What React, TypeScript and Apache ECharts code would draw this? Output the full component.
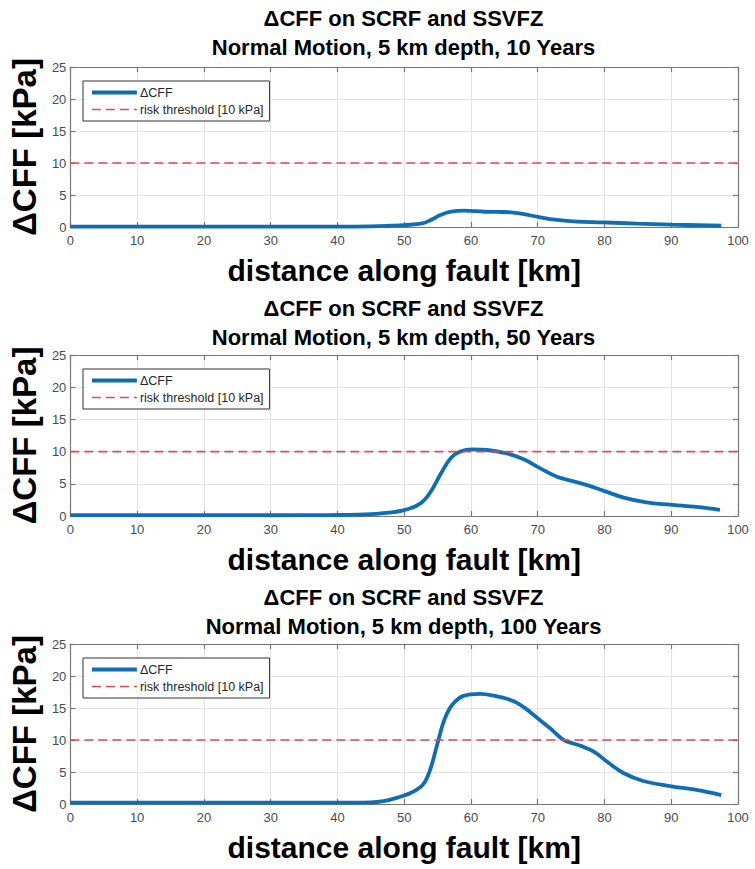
import React, { useEffect, useRef } from "react";
import * as echarts from "echarts";

const panelTitles = [
  "ΔCFF on SCRF and SSVFZ\nNormal Motion, 5 km depth, 10 Years",
  "ΔCFF on SCRF and SSVFZ\nNormal Motion, 5 km depth, 50 Years",
  "ΔCFF on SCRF and SSVFZ\nNormal Motion, 5 km depth, 100 Years",
];

const xTicks = [0, 10, 20, 30, 40, 50, 60, 70, 80, 90, 100];
const yTicks = [0, 5, 10, 15, 20, 25];

const dist10 = [0, 10, 20, 30, 40, 45, 48, 50, 52.7, 54, 55.5, 57, 59, 62, 64, 66, 67.5, 70.4, 72.9, 75.9, 79.8, 84.9, 89.8, 97.5];
const dcff10 = [0.05, 0.05, 0.05, 0.05, 0.05, 0.1, 0.2, 0.3, 0.55, 1.1, 1.9, 2.4, 2.55, 2.38, 2.35, 2.3, 2.1, 1.5, 1.1, 0.85, 0.73, 0.52, 0.37, 0.2];

const dist50 = [0, 10, 20, 30, 39, 43, 46.5, 50, 52.5, 54, 55.5, 57, 58.4, 60.2, 62.4, 65.4, 67.9, 70.4, 72.9, 74.9, 77.4, 79.9, 82.9, 86.3, 89.8, 93.8, 97.3];
const dcff50 = [0.15, 0.15, 0.13, 0.12, 0.15, 0.2, 0.4, 0.9, 2.0, 3.8, 6.6, 9.0, 10.0, 10.35, 10.25, 9.7, 8.8, 7.4, 6.1, 5.5, 4.8, 3.9, 2.85, 2.1, 1.75, 1.4, 0.95];

const dist100 = [0, 10, 20, 30, 39, 45, 49, 52.5, 53.7, 55, 56, 57.2, 58.9, 61.4, 63.9, 65.5, 66.9, 68.2, 69.4, 71.9, 73.9, 75.2, 76.4, 78.4, 80.4, 82.9, 85.8, 89.8, 93.8, 97.5];
const dcff100 = [0.2, 0.2, 0.2, 0.2, 0.2, 0.25, 1.0, 2.7, 4.8, 9.5, 13.1, 15.5, 16.9, 17.2, 16.8, 16.4, 15.8, 14.9, 13.9, 11.8, 10.0, 9.5, 9.1, 8.2, 6.6, 4.8, 3.6, 2.8, 2.2, 1.4];

const thresholdX = [0, 100];
const thresholdY = [10, 10];

const seriesName = "ΔCFF";
const thresholdName = "risk threshold [10 kPa]";

const panels = [
  { x: dist10, y: dcff10 },
  { x: dist50, y: dcff50 },
  { x: dist100, y: dcff100 },
];

const FONT = "'Liberation Sans', Arial, Helvetica, sans-serif";
const AXIS_COLOR = "#777777";
const LABEL_COLOR = "#4a4a4a";

export default function App() {
  const ref = useRef<HTMLDivElement>(null);

  useEffect(() => {
    if (!ref.current) return;
    const chart = echarts.init(ref.current, undefined, { renderer: "svg" });

    const gridTops = [67, 355, 644];
    const gridHeights = [160, 161, 160];
    const titleTops = [4, 294, 583];
    const legendTops = [81, 369, 658];
    const plotLeft = 69;
    const plotWidth = 669;

    const grids: any[] = [];
    const xAxes: any[] = [];
    const yAxes: any[] = [];
    const series: any[] = [];
    const titles: any[] = [];
    const legends: any[] = [];

    panels.forEach((p, i) => {
      grids.push({ left: plotLeft, top: gridTops[i], width: plotWidth, height: gridHeights[i], containLabel: false });

      titles.push({
        text: panelTitles[i],
        left: plotLeft + plotWidth / 2,
        top: titleTops[i],
        textAlign: "center",
        padding: 0,
        textStyle: { fontFamily: FONT, fontSize: 22, fontWeight: "bold", color: "#000", lineHeight: 29 },
      });

      legends.push({
        left: 83,
        top: legendTops[i],
        orient: "vertical",
        padding: [5, 6, 5, 7],
        itemGap: 4,
        itemWidth: 45,
        itemHeight: 12,
        borderColor: "#333",
        borderWidth: 1,
        backgroundColor: "#fff",
        selectedMode: false,
        itemStyle: { opacity: 0, borderWidth: 0 },
        lineStyle: { width: "inherit" },
        data: [seriesName, thresholdName],
        textStyle: { fontFamily: FONT, fontSize: 12.5, color: "#262626", padding: [0, 0, 0, -2] },
      });

      const baseX = {
        gridIndex: i,
        type: "value",
        min: 0,
        max: 100,
        interval: 10,
        axisLine: { show: true, onZero: false, lineStyle: { color: AXIS_COLOR, width: 1.2 } },
        axisTick: { show: true, inside: true, length: 5, lineStyle: { color: AXIS_COLOR, width: 1.2 } },
      };
      xAxes.push({
        ...baseX,
        position: "bottom",
        name: "distance along fault [km]",
        nameLocation: "middle",
        nameGap: 28,
        nameTextStyle: { fontFamily: FONT, fontSize: 30, fontWeight: "bold", color: "#000" },
        axisLabel: {
          show: true,
          margin: 7,
          fontFamily: FONT,
          fontSize: 13,
          color: LABEL_COLOR,
          showMinLabel: true,
          showMaxLabel: true,
          formatter: (v: number) => (xTicks.includes(v) ? String(v) : ""),
        },
        splitLine: { show: true, lineStyle: { color: "#e3e3e3", width: 1 } },
      });
      xAxes.push({
        ...baseX,
        position: "top",
        axisLabel: { show: false },
        splitLine: { show: false },
      });

      const baseY = {
        gridIndex: i,
        type: "value",
        min: 0,
        max: 25,
        interval: 5,
        axisLine: { show: true, onZero: false, lineStyle: { color: AXIS_COLOR, width: 1.2 } },
        axisTick: { show: true, inside: true, length: 5, lineStyle: { color: AXIS_COLOR, width: 1.2 } },
      };
      yAxes.push({
        ...baseY,
        position: "left",
        name: "ΔCFF [kPa]",
        nameLocation: "middle",
        nameGap: 14,
        nameTextStyle: { fontFamily: FONT, fontSize: 33, fontWeight: "bold", color: "#000" },
        axisLabel: {
          show: true,
          margin: 4,
          fontFamily: FONT,
          fontSize: 13,
          color: LABEL_COLOR,
          formatter: (v: number) => (yTicks.includes(v) ? String(v) : ""),
        },
        splitLine: { show: true, lineStyle: { color: "#e3e3e3", width: 1 } },
      });
      yAxes.push({
        ...baseY,
        position: "right",
        axisLabel: { show: false },
        splitLine: { show: false },
      });

      series.push({
        name: seriesName,
        type: "line",
        xAxisIndex: i * 2,
        yAxisIndex: i * 2,
        data: p.x.map((xv, k) => [xv, p.y[k]]),
        smooth: 0.4,
        showSymbol: false,
        symbol: "none",
        lineStyle: { color: "#0f6db3", width: 3.8 },
        itemStyle: { color: "#0f6db3" },
        z: 3,
      });
      series.push({
        name: thresholdName,
        type: "line",
        xAxisIndex: i * 2,
        yAxisIndex: i * 2,
        data: thresholdX.map((xv, k) => [xv, thresholdY[k]]),
        showSymbol: false,
        symbol: "none",
        lineStyle: { color: "#e04a52", width: 1.6, type: [9, 5] },
        itemStyle: { color: "#e04a52" },
        z: 4,
      });
    });

    chart.setOption({
      animation: false,
      backgroundColor: "#ffffff",
      title: titles,
      legend: legends,
      grid: grids,
      xAxis: xAxes,
      yAxis: yAxes,
      series,
    });

    return () => chart.dispose();
  }, []);

  return (
    <div
      ref={ref}
      style={{ position: "absolute", left: 0, top: 0, width: 755, height: 869, background: "#fff" }}
    />
  );
}
